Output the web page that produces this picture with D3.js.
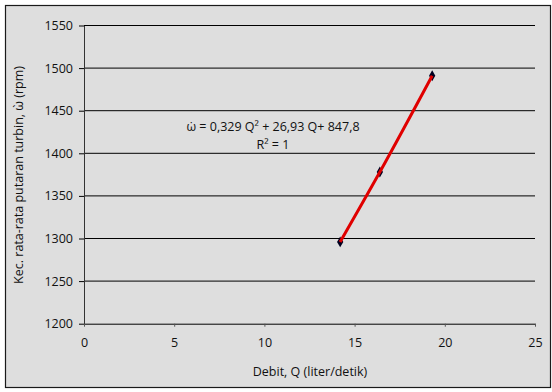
<!DOCTYPE html>
<html>
<head>
<meta charset="utf-8">
<script src="https://cdn.jsdelivr.net/npm/d3@7"></script>
<style>
  body { margin: 0; background: #fff; }
  text { font-family: "Open Sans", sans-serif; fill: #111; }
</style>
</head>
<body>
<div id="chart"></div>
<script>
// debit Q (liter/detik) vs kecepatan putaran (rpm)
var debit = [14.2, 16.4, 19.3];
var putaran = [1296, 1378, 1491];
var xTicks = [0, 5, 10, 15, 20, 25];
var yTicks = [1200, 1250, 1300, 1350, 1400, 1450, 1500, 1550];
var equation = "ω̇ = 0,329 Q² + 26,93 Q+ 847,8";
var rSquared = "R² = 1";

var W = 552, H = 392;
var margin = {top: 25.5, right: 17, bottom: 68.3, left: 84},
    width = W - margin.left - margin.right,
    height = H - margin.top - margin.bottom;

var svg = d3.select("#chart").append("svg")
    .attr("width", W)
    .attr("height", H);

// outer frame
svg.append("rect")
    .attr("x", 5.5).attr("y", 5.5)
    .attr("width", 545).attr("height", 382)
    .attr("fill", "#dedede")
    .attr("stroke", "#1a1a1a")
    .attr("stroke-width", 1.2);

var g = svg.append("g")
    .attr("transform", `translate(${margin.left},${margin.top})`);

var x = d3.scaleLinear().domain([0, 25]).range([0, width]);
var y = d3.scaleLinear().domain([1200, 1550]).range([height, 0]);

// gridlines
g.selectAll(".grid")
    .data(yTicks.slice(1))
    .enter().append("line")
    .attr("x1", 0).attr("x2", width)
    .attr("y1", d => y(d)).attr("y2", d => y(d))
    .attr("stroke", "#000").attr("stroke-width", 1);

var yAxis = g.append("g")
    .call(d3.axisLeft(y).tickValues(yTicks).tickFormat(d3.format("d"))
        .tickSize(5).tickPadding(6).tickSizeOuter(0));
yAxis.select(".domain").attr("stroke", "#333");
yAxis.selectAll("text").style("font-size", "12.5px").attr("font-family", null);

var xAxis = g.append("g")
    .attr("transform", `translate(0,${height})`)
    .call(d3.axisBottom(x).tickValues(xTicks).tickFormat(d3.format("d"))
        .tickSize(3).tickPadding(11).tickSizeOuter(0));
xAxis.select(".domain").attr("stroke", "#000");
xAxis.selectAll(".tick line").attr("stroke", "#555");
xAxis.selectAll("text").style("font-size", "12.5px").attr("font-family", null);

var pts = debit.map((d, i) => ({q: d, w: putaran[i]}));

// data series
g.append("path")
    .datum(pts)
    .attr("fill", "none")
    .attr("stroke", "#000040")
    .attr("stroke-width", 1)
    .attr("d", d3.line().x(d => x(d.q)).y(d => y(d.w)));

g.selectAll(".pt")
    .data(pts)
    .enter().append("path")
    .attr("transform", d => `translate(${x(d.q)},${y(d.w)})`)
    .attr("d", d3.symbol().type(d3.symbolDiamond).size(34))
    .attr("fill", "#000020");

// trendline
g.append("path")
    .datum(pts)
    .attr("fill", "none")
    .attr("stroke", "#e00000")
    .attr("stroke-width", 3)
    .attr("d", d3.line().curve(d3.curveMonotoneX).x(d => x(d.q)).y(d => y(d.w)));

// equation labels
svg.append("text")
    .attr("x", 273).attr("y", 131)
    .attr("text-anchor", "middle")
    .style("font-size", "12.5px")
    .text(equation);
svg.append("text")
    .attr("x", 273).attr("y", 149)
    .attr("text-anchor", "middle")
    .style("font-size", "12.5px")
    .text(rSquared);

// axis titles
svg.append("text")
    .attr("x", 310).attr("y", 376)
    .attr("text-anchor", "middle")
    .style("font-size", "12.5px")
    .text("Debit, Q (liter/detik)");

svg.append("text")
    .attr("transform", "translate(23,175) rotate(-90)")
    .attr("text-anchor", "middle")
    .style("font-size", "12.5px")
    .text("Kec. rata-rata putaran turbin, ὼ (rpm)");
</script>
</body>
</html>
